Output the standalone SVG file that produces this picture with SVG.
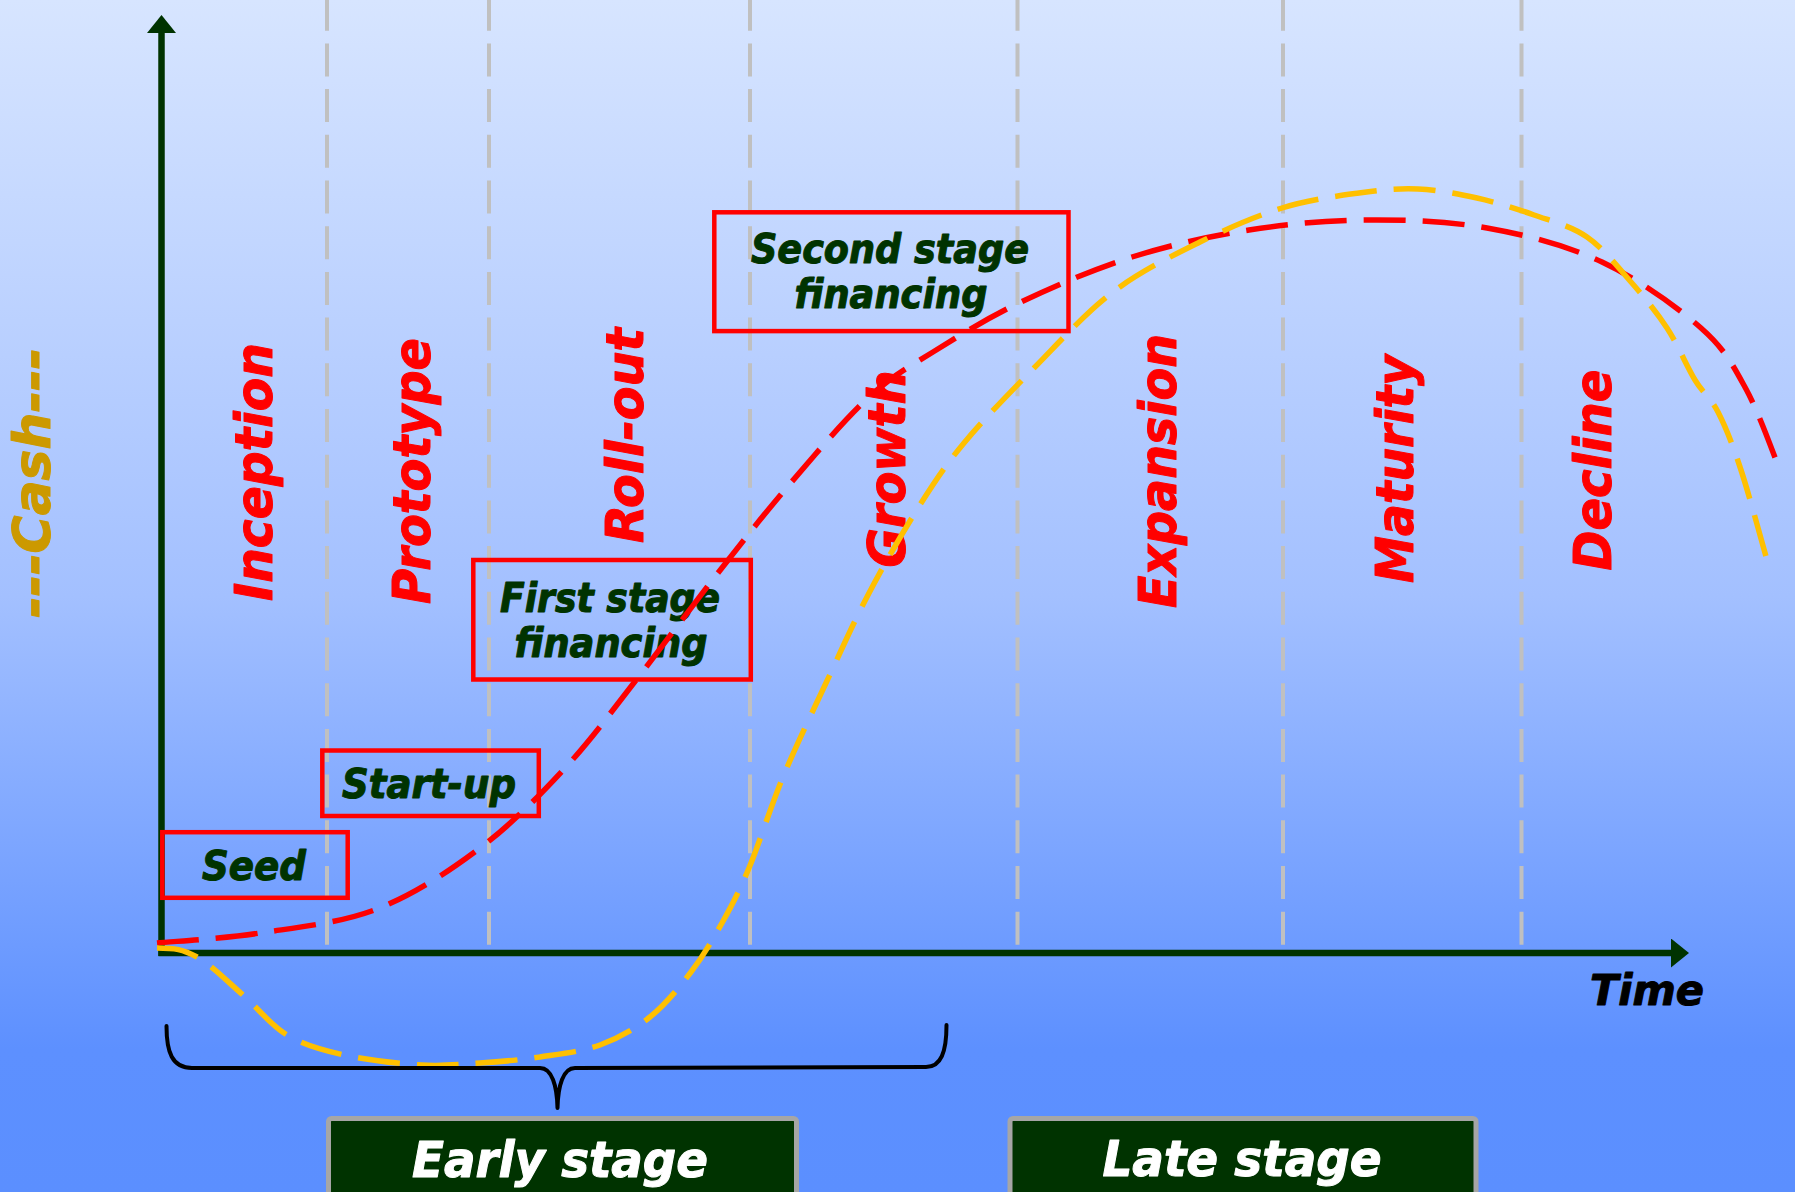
<svg xmlns="http://www.w3.org/2000/svg" width="1795" height="1192" viewBox="0 0 1795 1192">
  <defs>
    <linearGradient id="sky" x1="0" y1="0" x2="0" y2="1192" gradientUnits="userSpaceOnUse">
      <stop offset="0" stop-color="#d7e5ff"/>
      <stop offset="0.5" stop-color="#a3c0ff"/>
      <stop offset="0.88" stop-color="#5d90ff"/>
      <stop offset="1" stop-color="#5b8fff"/>
    </linearGradient>
    <marker id="arrow" viewBox="0 0 18 29" refX="0" refY="14.5" markerWidth="18" markerHeight="29" markerUnits="userSpaceOnUse" orient="auto">
      <path d="M0,0 L18,14.5 L0,29 Z" fill="#003300"/>
    </marker>
    <style>
      .grid { stroke: #c0c0c0; stroke-width: 4; stroke-dasharray: 33 12.7; fill: none; }
      .axis { stroke: #003300; stroke-width: 6.5; fill: none; marker-end: url(#arrow); }
      .t { font-family: 'DejaVu Sans Condensed', 'DejaVu Sans', sans-serif; font-weight: bold; font-style: oblique; text-anchor: middle; stroke-width: 1; stroke-linejoin: round; }
      .phase { font-size: 51px; fill: #ff0000; stroke: #ff0000; }
      .cashlabel { font-size: 51px; fill: #cc9900; stroke: #cc9900; }
      .box { fill: none; stroke: #ff0000; stroke-width: 4.5; }
      .boxlabel { font-size: 40px; fill: #003300; stroke: #003300; }
      .timelabel { font-size: 43px; fill: #000000; stroke: #000000; }
      .curve { fill: none; stroke-width: 5.5; stroke-dasharray: 42 17; }
      .debt { stroke: #ff0000; }
      .cash { stroke: #ffc000; }
      .brace { fill: none; stroke: #000000; stroke-width: 4; stroke-linecap: round; stroke-linejoin: round; }
      .stage rect { fill: #003300; stroke: #a6a6a6; stroke-width: 5; }
      .stage text { font-size: 50px; fill: #ffffff; stroke: #ffffff; }
    </style>
  </defs>

  <rect x="0" y="0" width="1795" height="1192" fill="url(#sky)"/>

  <!-- phase boundaries -->
  <g id="phase-grid">
    <line class="grid" x1="327" y1="-2.3" x2="327" y2="948"/>
    <line class="grid" x1="489" y1="-2.3" x2="489" y2="948"/>
    <line class="grid" x1="750" y1="-2.3" x2="750" y2="948"/>
    <line class="grid" x1="1017.5" y1="-2.3" x2="1017.5" y2="948"/>
    <line class="grid" x1="1283" y1="-2.3" x2="1283" y2="948"/>
    <line class="grid" x1="1521.5" y1="-2.3" x2="1521.5" y2="948"/>
  </g>

  <!-- axes -->
  <g id="axes">
    <line class="axis" x1="161.5" y1="956" x2="161.5" y2="33"/>
    <line class="axis" x1="158.5" y1="953" x2="1671" y2="953"/>
    <text class="t timelabel" x="1647" y="1005" textLength="114" lengthAdjust="spacingAndGlyphs">Time</text>
    <text class="t cashlabel" transform="translate(50,483) rotate(-90)" textLength="270" lengthAdjust="spacingAndGlyphs">---Cash---</text>
  </g>

  <!-- life-cycle phases -->
  <g id="phases">
    <text id="inception" class="t phase" transform="translate(272,472) rotate(-90)" textLength="258" lengthAdjust="spacingAndGlyphs">Inception</text>
    <text id="prototype" class="t phase" transform="translate(430,471) rotate(-90)" textLength="266" lengthAdjust="spacingAndGlyphs">Prototype</text>
    <text id="rollout" class="t phase" transform="translate(643,435.5) rotate(-90)" textLength="215" lengthAdjust="spacingAndGlyphs">Roll-out</text>
    <text id="growth" class="t phase" transform="translate(905,469) rotate(-90)" textLength="197" lengthAdjust="spacingAndGlyphs">Growth</text>
    <text id="expansion" class="t phase" transform="translate(1176,471) rotate(-90)" textLength="274" lengthAdjust="spacingAndGlyphs">Expansion</text>
    <text id="maturity" class="t phase" transform="translate(1413,469) rotate(-90)" textLength="228" lengthAdjust="spacingAndGlyphs">Maturity</text>
    <text id="decline" class="t phase" transform="translate(1611,470) rotate(-90)" textLength="201" lengthAdjust="spacingAndGlyphs">Decline</text>
  </g>

  <!-- financing rounds -->
  <g id="seed">
    <rect class="box" x="162.3" y="832.2" width="185.4" height="65.6"/>
    <text class="t boxlabel" x="254" y="880" textLength="104" lengthAdjust="spacingAndGlyphs">Seed</text>
  </g>
  <g id="startup">
    <rect class="box" x="322.3" y="750.5" width="216.5" height="65.5"/>
    <text class="t boxlabel" x="429" y="798" textLength="174" lengthAdjust="spacingAndGlyphs">Start-up</text>
  </g>
  <g id="first-stage">
    <rect class="box" x="473.3" y="560" width="277.5" height="119.5"/>
    <text class="t boxlabel" x="610" y="611.5" textLength="220" lengthAdjust="spacingAndGlyphs">First stage</text>
    <text class="t boxlabel" x="611" y="656.5" textLength="193" lengthAdjust="spacingAndGlyphs">financing</text>
  </g>
  <g id="second-stage">
    <rect class="box" x="714.3" y="212.3" width="354.2" height="118.8"/>
    <text class="t boxlabel" x="890" y="263" textLength="278" lengthAdjust="spacingAndGlyphs">Second stage</text>
    <text class="t boxlabel" x="891" y="308" textLength="193" lengthAdjust="spacingAndGlyphs">financing</text>
  </g>

  <!-- curves -->
  <g id="connectors">
    <path id="financing-curve" class="curve debt" d="M157,943 C174.2,941.3 223.3,938.7 260,933 C296.7,927.3 340.3,923.2 377,909 C413.7,894.8 448.7,871.5 480,848 C511.3,824.5 538.3,796.8 565,768 C591.7,739.2 615.2,706.7 640,675 C664.8,643.3 689.2,609.7 714,578 C738.8,546.3 763.3,515 789,485 C814.7,455 844,420.2 868,398 C892,375.8 907.5,368 933,352 C958.5,336 987.8,317.8 1021,302 C1054.2,286.2 1094,269 1132,257 C1170,245 1209.8,236.2 1249,230 C1288.2,223.8 1327.3,220.3 1367,220 C1406.7,219.7 1447.8,221 1487,228 C1526.2,235 1566.3,245.3 1602,262 C1637.7,278.7 1677,306.8 1701,328 C1725,349.2 1732.7,364.8 1746,389 C1759.3,413.2 1775.2,459 1781,473"/>
    <path id="cash-curve" class="curve cash" d="M157,948 C175,948 182.7,949.2 197,957 C211.3,964.8 228,982 243,995 C258,1008 270.2,1025 287,1035 C303.8,1045 321.7,1050 344,1055 C366.3,1060 398.3,1063.7 421,1065 C443.7,1066.3 460.2,1064.3 480,1063 C499.8,1061.7 520,1060 540,1057 C560,1054 581.7,1051.7 600,1045 C618.3,1038.3 634.8,1029.2 650,1017 C665.2,1004.8 679,987.7 691,972 C703,956.3 712.3,940.3 722,923 C731.7,905.7 738.8,892.3 749,868 C759.2,843.7 770.2,807.8 783,777 C795.8,746.2 811.8,713.3 826,683 C840.2,652.7 852.7,624.2 868,595 C883.3,565.8 902,533.3 918,508 C934,482.7 944.7,466.3 964,443 C983.3,419.7 1009.2,393.2 1034,368 C1058.8,342.8 1085.3,313 1113,292 C1140.7,271 1171.8,256 1200,242 C1228.2,228 1255.5,216.2 1282,208 C1308.5,199.8 1336.3,196.2 1359,193 C1381.7,189.8 1398.3,188.2 1418,189 C1437.7,189.8 1457.7,193.7 1477,198 C1496.3,202.3 1515.7,208.5 1534,215 C1552.3,221.5 1570.8,225.8 1587,237 C1603.2,248.2 1617.7,266.8 1631,282 C1644.3,297.2 1656.3,311.7 1667,328 C1677.7,344.3 1686.5,366 1695,380 C1703.5,394 1710.3,397 1718,412 C1725.7,427 1732.5,444.2 1741,470 C1749.5,495.8 1764.3,550.8 1769,567"/>
  </g>

  <!-- early-stage brace -->
  <g id="brace">
    <path class="brace" d="M166.5,1026 C166.5,1052 172,1068 192,1068 L540,1068 C552,1068 557,1086 557.5,1108 C558,1086 563,1068 575,1068 L926,1067 C941,1067 946.5,1052 946.5,1025"/>
  </g>

  <!-- stage banners -->
  <g id="early-stage" class="stage">
    <rect x="328.5" y="1118.5" width="468" height="90" rx="3"/>
    <text class="t" x="560" y="1176.5" textLength="296" lengthAdjust="spacingAndGlyphs">Early stage</text>
  </g>
  <g id="late-stage" class="stage">
    <rect x="1010" y="1118.5" width="466" height="90" rx="3"/>
    <text class="t" x="1242" y="1176" textLength="279" lengthAdjust="spacingAndGlyphs">Late stage</text>
  </g>
</svg>
